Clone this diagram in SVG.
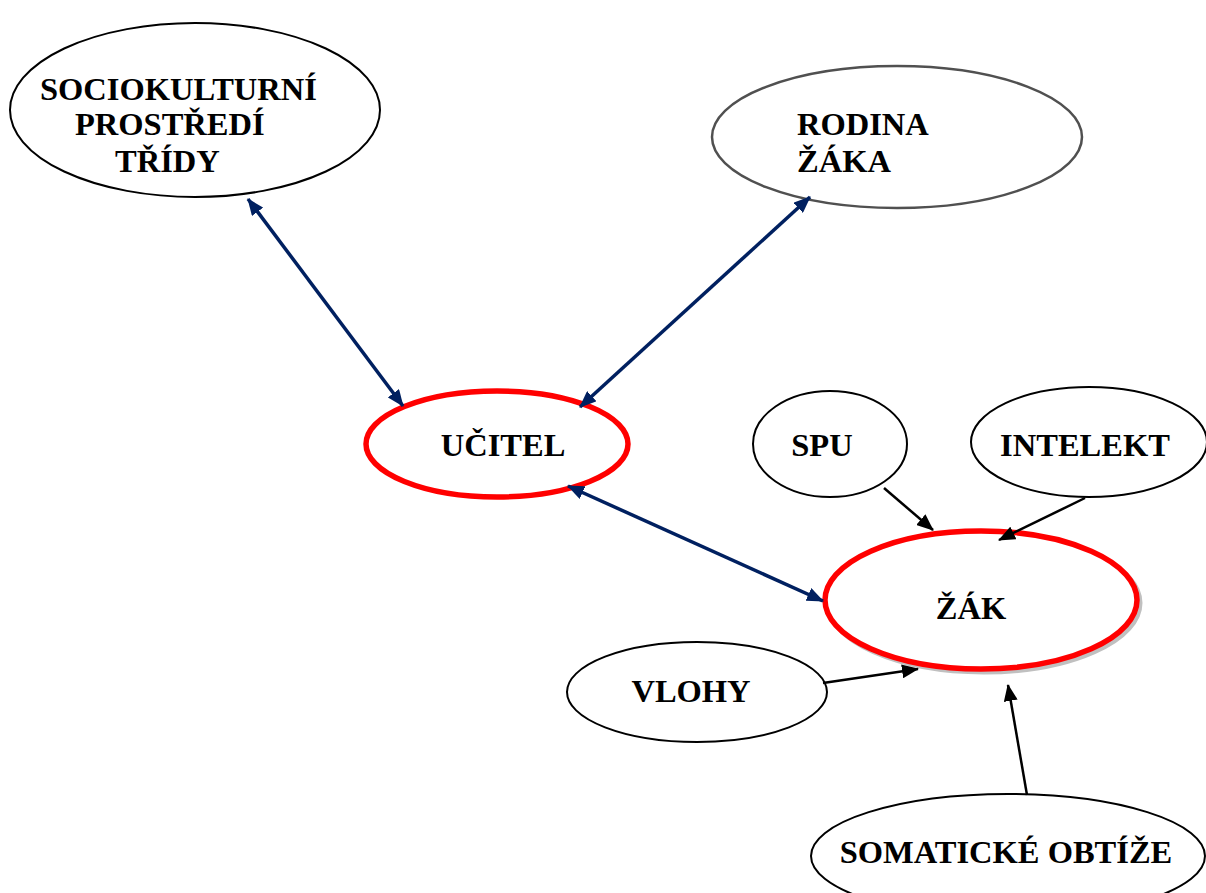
<svg xmlns="http://www.w3.org/2000/svg" width="1206" height="893" viewBox="0 0 1206 893">
<defs>
<style>
.t{font-family:"Liberation Serif","Times New Roman",serif;font-weight:bold;font-size:32.5px;fill:#000}
.n{fill:#fff;stroke:#000;stroke-width:2}
.r{fill:#fff;stroke:#ff0000;stroke-width:5.5}
.nv{stroke:#002060;stroke-width:3.5;fill:none}
.bk{stroke:#000;stroke-width:2.5;fill:none}
</style>
<marker id="an" markerUnits="userSpaceOnUse" markerWidth="18" markerHeight="14" refX="16" refY="7" orient="auto-start-reverse">
<path d="M0,0 L17,7 L0,14 z" fill="#002060"/>
</marker>
<marker id="ab" markerUnits="userSpaceOnUse" markerWidth="18" markerHeight="14" refX="16" refY="7" orient="auto">
<path d="M0,0 L17,7 L0,14 z" fill="#000"/>
</marker>
</defs>
<rect width="1206" height="893" fill="#fff"/>
<g id="socio">
<ellipse class="n" cx="195" cy="110" rx="185" ry="87"/>
<text class="t" x="40" y="100">SOCIOKULTURNÍ</text>
<text class="t" x="75" y="135">PROSTŘEDÍ</text>
<text class="t" x="115" y="172">TŘÍDY</text>
</g>
<g id="rodina">
<ellipse cx="897" cy="137" rx="185" ry="71" fill="#fff" stroke="#505050" stroke-width="2.5"/>
<text class="t" x="797" y="135">RODINA</text>
<text class="t" x="797" y="172">ŽÁKA</text>
</g>
<g id="ucitel">
<ellipse class="r" cx="497" cy="444" rx="131" ry="53"/>
<text class="t" x="503" y="456" text-anchor="middle">UČITEL</text>
</g>
<g id="spu">
<ellipse class="n" cx="830" cy="444" rx="77" ry="53"/>
<text class="t" x="822" y="456" text-anchor="middle">SPU</text>
</g>
<g id="intelekt">
<ellipse class="n" cx="1089" cy="442" rx="118" ry="55"/>
<text class="t" x="1085" y="456" text-anchor="middle">INTELEKT</text>
</g>
<g id="zak">
<ellipse cx="984" cy="603" rx="156" ry="69" fill="none" stroke="#c0c0c0" stroke-width="5"/>
<ellipse class="r" cx="981" cy="600" rx="156" ry="69"/>
<text class="t" x="971" y="619" text-anchor="middle">ŽÁK</text>
</g>
<g id="vlohy">
<ellipse class="n" cx="697" cy="692" rx="130" ry="50"/>
<text class="t" x="691" y="702" text-anchor="middle">VLOHY</text>
</g>
<g id="somaticke">
<ellipse class="n" cx="1008" cy="856" rx="197" ry="62"/>
<text class="t" x="1006" y="863" text-anchor="middle">SOMATICKÉ OBTÍŽE</text>
</g>
<g id="connectors">
<line class="nv" x1="248" y1="199" x2="403" y2="406" marker-start="url(#an)" marker-end="url(#an)"/>
<line class="nv" x1="810" y1="197" x2="580" y2="407" marker-start="url(#an)" marker-end="url(#an)"/>
<line class="nv" x1="568" y1="486" x2="823" y2="601" marker-start="url(#an)" marker-end="url(#an)"/>
<line class="bk" x1="884" y1="488" x2="933" y2="530" marker-end="url(#ab)"/>
<line class="bk" x1="1085" y1="498" x2="999" y2="540" marker-end="url(#ab)"/>
<line class="bk" x1="823" y1="683" x2="918" y2="669" marker-end="url(#ab)"/>
<line class="bk" x1="1027" y1="795" x2="1008" y2="685" marker-end="url(#ab)"/>
</g>
</svg>
